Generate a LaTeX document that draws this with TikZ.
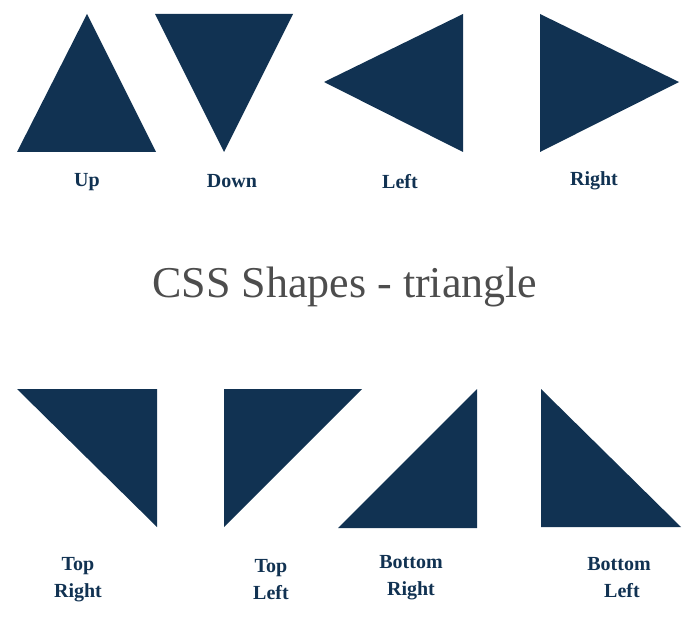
\documentclass[tikz,border=0pt]{standalone}
\usepackage{fontspec}
\setmainfont{Liberation Serif}
\usepackage{tikz}
\definecolor{navy}{RGB}{17, 50, 82}
\definecolor{grey}{RGB}{77, 77, 77}
\tikzset{tri/.style={fill=navy},
  lbl/.style={text=navy, font=\fontsize{20}{27}\selectfont\bfseries, align=center}}

\begin{document}
\begin{tikzpicture}[x=1pt, y=-1pt]
  \useasboundingbox (0, 0) rectangle (700, 620);

  % top row
  \fill[tri] (17, 152) -- (156, 152) -- (87, 14) -- cycle;
  \fill[tri] (155, 14) -- (293, 14) -- (224, 152) -- cycle;
  \fill[tri] (324, 82) -- (463, 14) -- (463, 152) -- cycle;
  \fill[tri] (540, 14) -- (540, 152) -- (679, 82) -- cycle;

  \node[lbl] (up) at (87, 182) {Up};
  \node[lbl] (down) at (232, 181) {Down};
  \node[lbl] (left) at (400, 182) {Left};
  \node[lbl] (right) at (594, 181) {Right};

  \node[text=grey, font=\fontsize{44}{50}\selectfont] (title) at (345, 287) {CSS Shapes - triangle};

  % bottom row
  \fill[tri] (17, 389) -- (157, 389) -- (157, 527) -- cycle;
  \fill[tri] (224, 389) -- (362, 389) -- (224, 527) -- cycle;
  \fill[tri] (477, 389) -- (477, 528) -- (338, 528) -- cycle;
  \fill[tri] (541, 389) -- (541, 527) -- (681, 527) -- cycle;

  \node[lbl] (topright) at (78, 580) {Top\\Right};
  \node[lbl] (topleft) at (271, 580) {Top\\Left};
  \node[lbl] (bottomright) at (411, 578) {Bottom\\Right};
  \node[lbl] (bottomleft) at (619, 578) {Bottom\\\hspace*{6pt}Left};
\end{tikzpicture}
\end{document}
